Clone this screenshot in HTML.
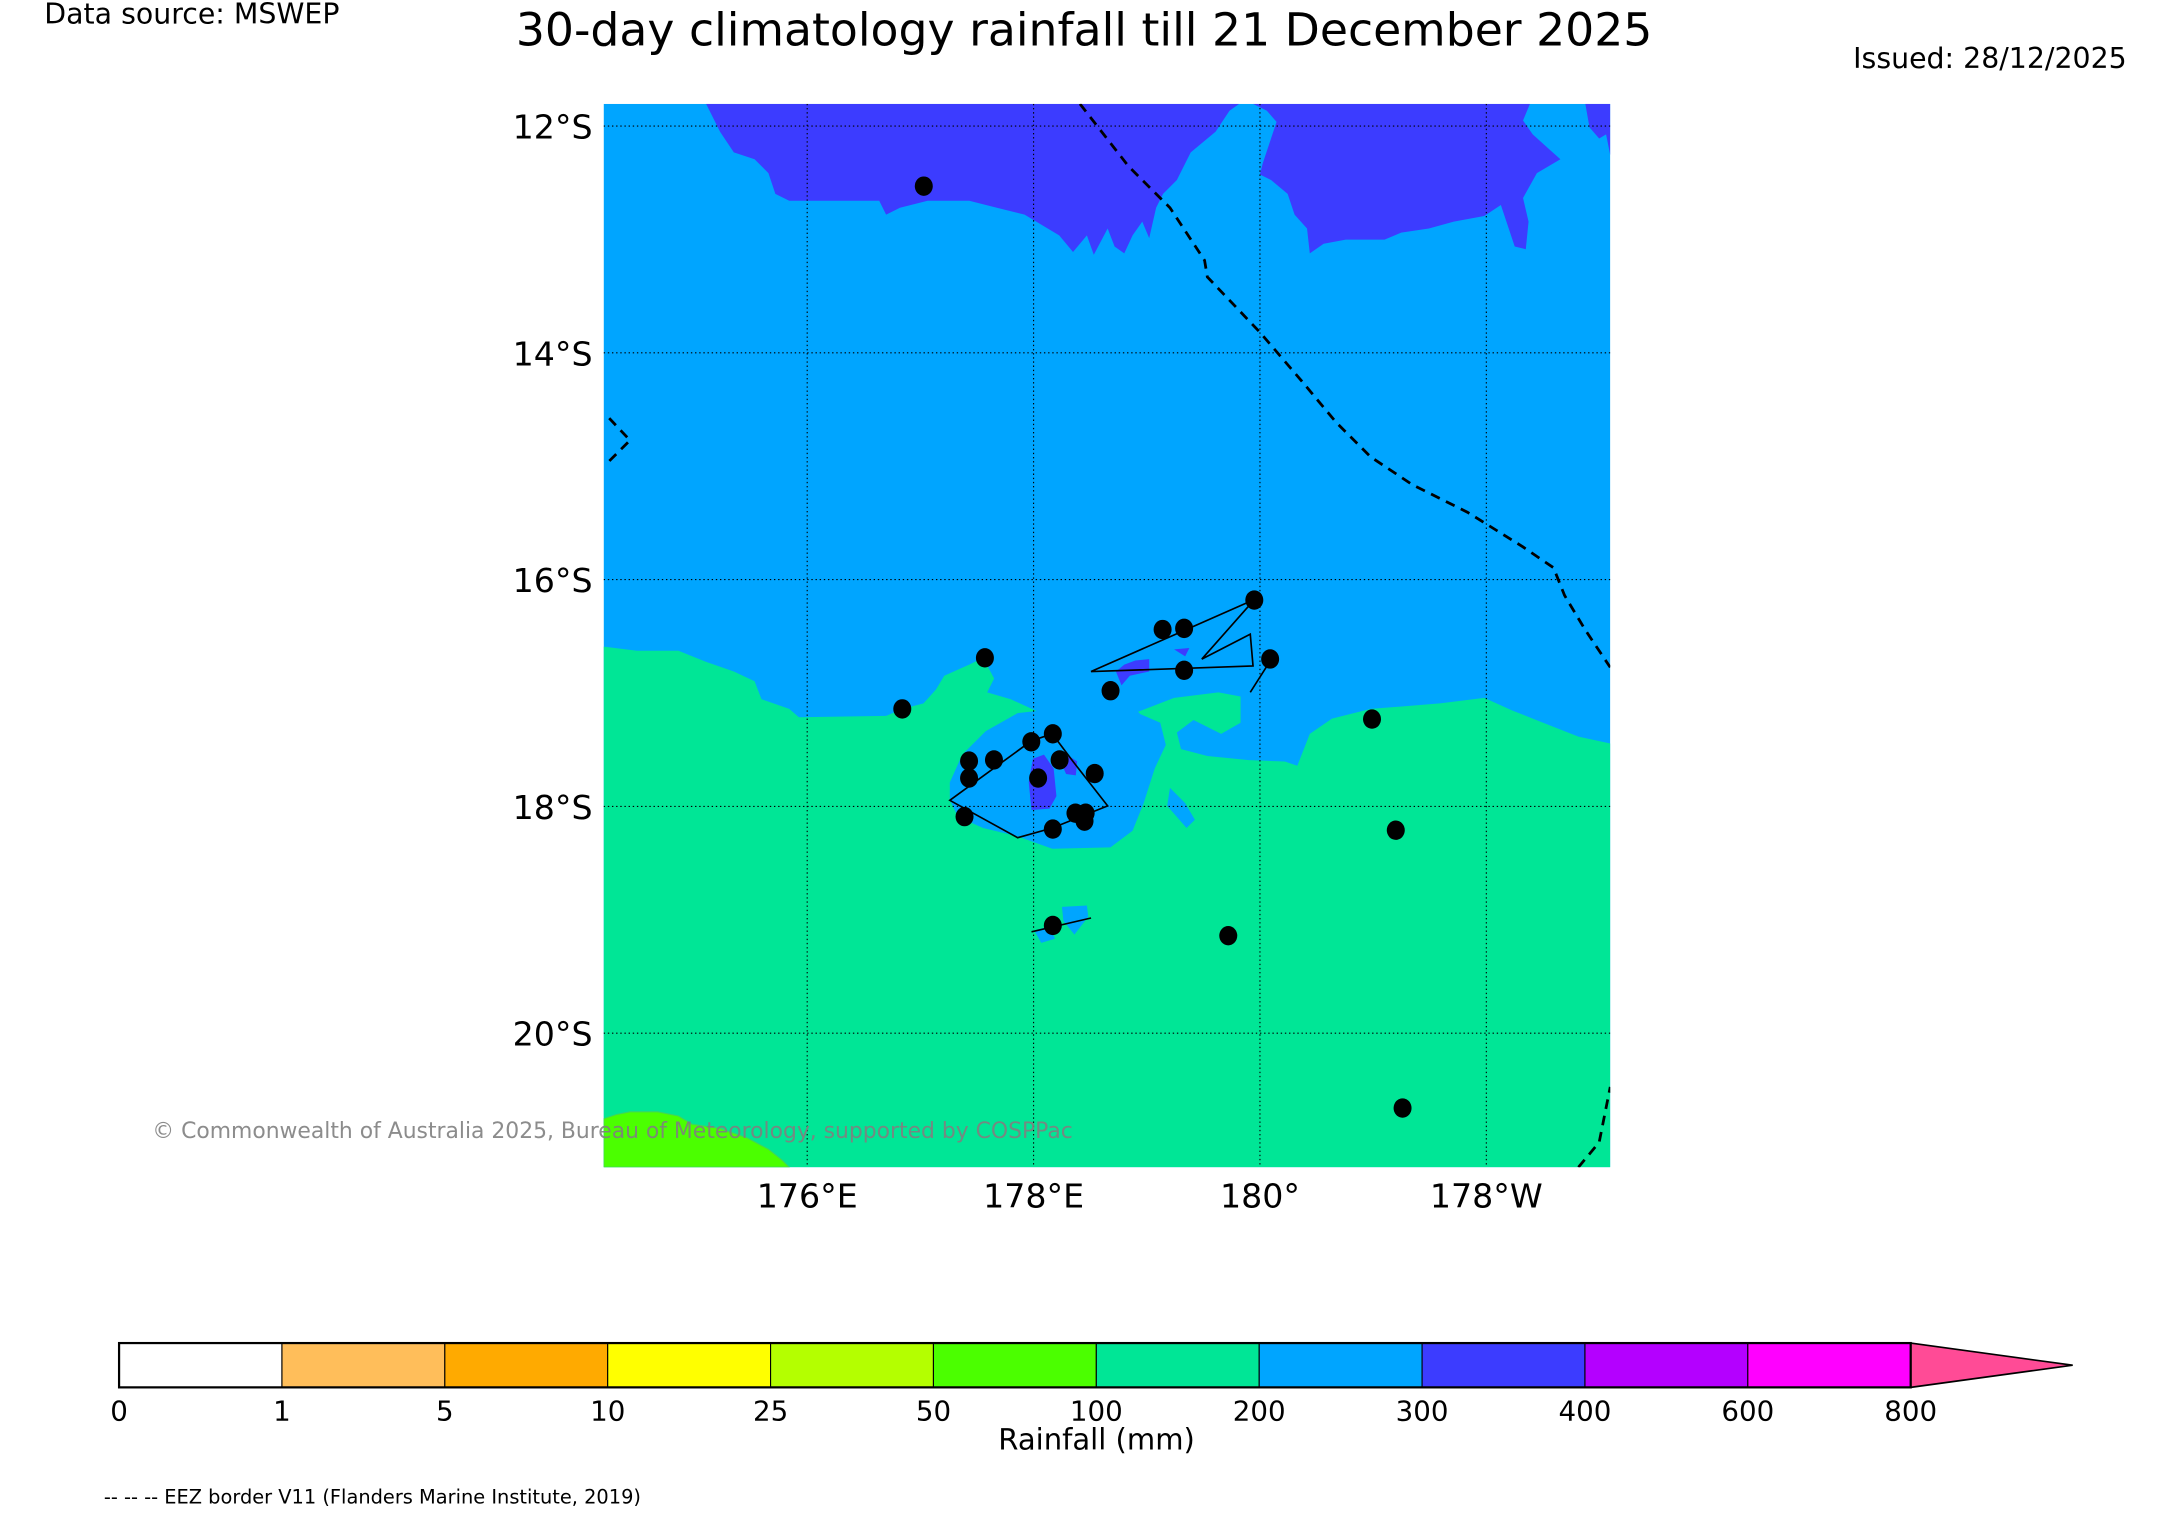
<!DOCTYPE html>
<html><head><meta charset="utf-8"><style>
html,body{margin:0;padding:0;background:#fff}
svg{display:block;font-family:"DejaVu Sans","Liberation Sans",sans-serif}
</style></head><body>
<svg id="fig" width="2171" height="1517" viewBox="0 0 1568 1095.6" xmlns="http://www.w3.org/2000/svg">
<text x="32" y="17" font-size="20.5">Data source: MSWEP</text>
<text x="783" y="33" font-size="33" text-anchor="middle">30-day climatology rainfall till 21 December 2025</text>
<text x="1536" y="49" font-size="20.5" text-anchor="end">Issued: 28/12/2025</text>
<defs><clipPath id="pc"><rect x="436" y="75" width="727" height="768"/></clipPath></defs>
<g id="map" clip-path="url(#pc)">
<rect x="436" y="75" width="727" height="768" fill="#00a5ff"/>
<path fill="#3c3cff" d="M510,75 L520,95 530,110 545,115 555,125 560,140 570,145 635,145 640,155 650,150 670,145 700,145 720,150 740,155 765,170 775,182 785,170 790,184 800,165 805,178 812,183 818,170 825,160 830,172 835,150 840,140 850,130 860,110 878,95 888,80 895,75 Z"/>
<path fill="#3c3cff" d="M905,75 L915,80 922,88 918,100 912,118 910,126 918,130 930,140 935,155 944,165 946,183 956,176 972,173 1000,173 1012,168 1032,165 1050,160 1072,156 1084,148 1094,178 1102,180 1104,160 1100,143 1110,125 1127,115 1118,107 1107,97 1100,87 1105,75 Z M1145,75 L1148,92 1155,100 1160,97 1163,112 1163,75 Z"/>
<path fill="#00e696" d="M436,467 L460,470 490,470 510,478 530,485 545,492 550,505 570,512 577,518 640,517 652,512 667,508 676,498 682,488 700,480 710,475 718,490 713,500 730,505 752,515 830,523 822,514 848,504 880,500 896,503 896,522 882,530 862,520 850,529 853,541 872,546 902,549 928,550 937,553 946,530 962,519 990,512 1040,508 1072,504 1092,513 1112,521 1140,532 1163,537 L1163,843 436,843 Z"/>
<path fill="#00a5ff" d="M686,565 L695,545 712,528 735,515 762,512 790,510 815,512 838,522 842,538 834,555 826,580 818,600 802,612 760,613 735,604 710,598 692,590 686,578 Z"/>
<path fill="#00a5ff" d="M845,569 L856,580 863,592 857,598 843,582 Z"/>
<path fill="#00a5ff" d="M767,655 L785,654 786,662 776,675 768,665 Z M747,672 L758,669 762,678 752,681 Z"/>
<path fill="#3c3cff" d="M746,548 L754,545 761,555 763,575 758,584 745,585 743,565 Z M765,548 L772,546 778,550 777,560 770,559 Z"/>
<path fill="#3c3cff" d="M806,485 L812,480 820,477 830,476 830,485 816,488 810,495 Z M848,469 L859,468 856,474 Z"/>
<path fill="#4bff00" stroke="#3fd65a" stroke-width="0.8" d="M436,808 L445,805 455,803 475,803 490,806 500,812 520,815 540,822 555,830 565,838 570,843 436,843 Z"/>
<g id="grid" stroke="#000" stroke-width="0.8" stroke-dasharray="1,2"></g>
<g id="coast" fill="none" stroke="#000" stroke-width="1.2">
<path d="M686,578 L745,535 760,530 775,550 800,582 760,598 735,605 Z"/>
<path d="M788,485 L906,433 868,476 903,458 905,481 Z"/>
<path d="M903,500 L917,478"/>
<path d="M745,673 L788,663"/>
</g>
<g id="eez" fill="none" stroke="#000" stroke-width="2" stroke-dasharray="7,5">
<path d="M780,75 L815,120 845,150 870,188 872,200 910,240 940,275 965,305 990,330 1020,350 1060,370 1100,395 1122,410 1130,430 1145,455 1163,482"/>
<path d="M440,302 L455,318 438,335"/>
<path d="M1140,843 L1155,825 1158,810 1163,785"/>
</g>
<g id="dots"></g>
</g>
<g id="axlab" font-size="24"></g>
<text x="110" y="822" font-size="15.8" fill="#808080" fill-opacity="0.9">© Commonwealth of Australia 2025, Bureau of Meteorology, supported by COSPPac</text>
<g id="cbar"></g>
<text x="792" y="1047" font-size="21" text-anchor="middle">Rainfall (mm)</text>
<text x="75" y="1086" font-size="14">-- -- -- EEZ border V11 (Flanders Marine Institute, 2019)</text>
</svg>
<script>
const latTicks = [12, 14, 16, 18, 20];
const lonTicks = [176, 178, 180, 182];
const lonTickLabels = ['176°E', '178°E', '180°', '178°W'];
const stationLon = [177.03,177.57,176.84,178.68,179.14,179.33,179.95,179.33,180.09,180.99,181.20,179.72,181.26,178.17,177.98,178.17,177.43,177.43,177.65,178.23,178.04,178.54,177.39,178.17,178.37,178.46,178.45];
const stationLat = [12.53,16.69,17.14,16.98,16.44,16.43,16.18,16.80,16.70,17.23,18.21,19.14,20.66,19.05,17.43,17.36,17.60,17.75,17.59,17.59,17.75,17.71,18.09,18.20,18.06,18.06,18.13];
const cbarLevels = ['0','1','5','10','25','50','100','200','300','400','600','800'];
const cbarColors = ['#ffffff','#ffbe5a','#ffaa00','#ffff00','#b4ff00','#4bff00','#00e696','#00a5ff','#3c3cff','#b400ff','#ff00ff'];
const cbarExtendColor = '#ff4b96';

const NS='http://www.w3.org/2000/svg';
const PX0=436,PX1=1163,PY0=75,PY1=843;
function xOf(lon){return 583+(lon-176)*81.75;}
function yOf(lat){return 91+(lat-12)*81.9;}
function mk(t,a,p){const e=document.createElementNS(NS,t);for(const k in a)e.setAttribute(k,a[k]);p.appendChild(e);return e;}
const grid=document.getElementById('grid'),axl=document.getElementById('axlab');
latTicks.forEach(v=>{const y=yOf(v);
 const l=mk('line',{x1:PX0,x2:PX1,y1:y,y2:y},grid);
 
 
 const t=mk('text',{x:428,y:y+9,'text-anchor':'end'},axl);t.textContent=v+'°S';
 
 
});
lonTicks.forEach((v,i)=>{const x=xOf(v);
 const l=mk('line',{x1:x,x2:x,y1:PY0,y2:PY1},grid);
 
 
 const t=mk('text',{x:x,y:872,'text-anchor':'middle'},axl);t.textContent=lonTickLabels[i];
 
 
});
const dots=document.getElementById('dots');
stationLon.forEach((lo,i)=>{
 const c=mk('ellipse',{cx:xOf(lo),cy:yOf(stationLat[i]),rx:6.5,ry:7,fill:'#000'},dots);
 
 
});
const cb=document.getElementById('cbar');
const CX0=86,CX1=1380,CY0=970,CY1=1002,n=cbarColors.length,w=(CX1-CX0)/n;
cbarColors.forEach((c,i)=>{
 const r=mk('rect',{x:CX0+i*w,y:CY0,width:w,height:CY1-CY0,fill:c,stroke:'#000','stroke-width':0.8},cb);
 
 
});
const tri=mk('polygon',{points:`${CX1},${CY0} 1497,${(CY0+CY1)/2} ${CX1},${CY1}`,fill:cbarExtendColor,stroke:'#000','stroke-width':1.2},cb);


const ol=mk('rect',{x:CX0,y:CY0,width:CX1-CX0,height:CY1-CY0,fill:'none',stroke:'#000','stroke-width':1.6},cb);


cbarLevels.forEach((s,i)=>{
 const t=mk('text',{x:CX0+i*w,y:1026,'font-size':20,'text-anchor':'middle'},cb);t.textContent=s;
 
 
});
</script>
</body></html>
